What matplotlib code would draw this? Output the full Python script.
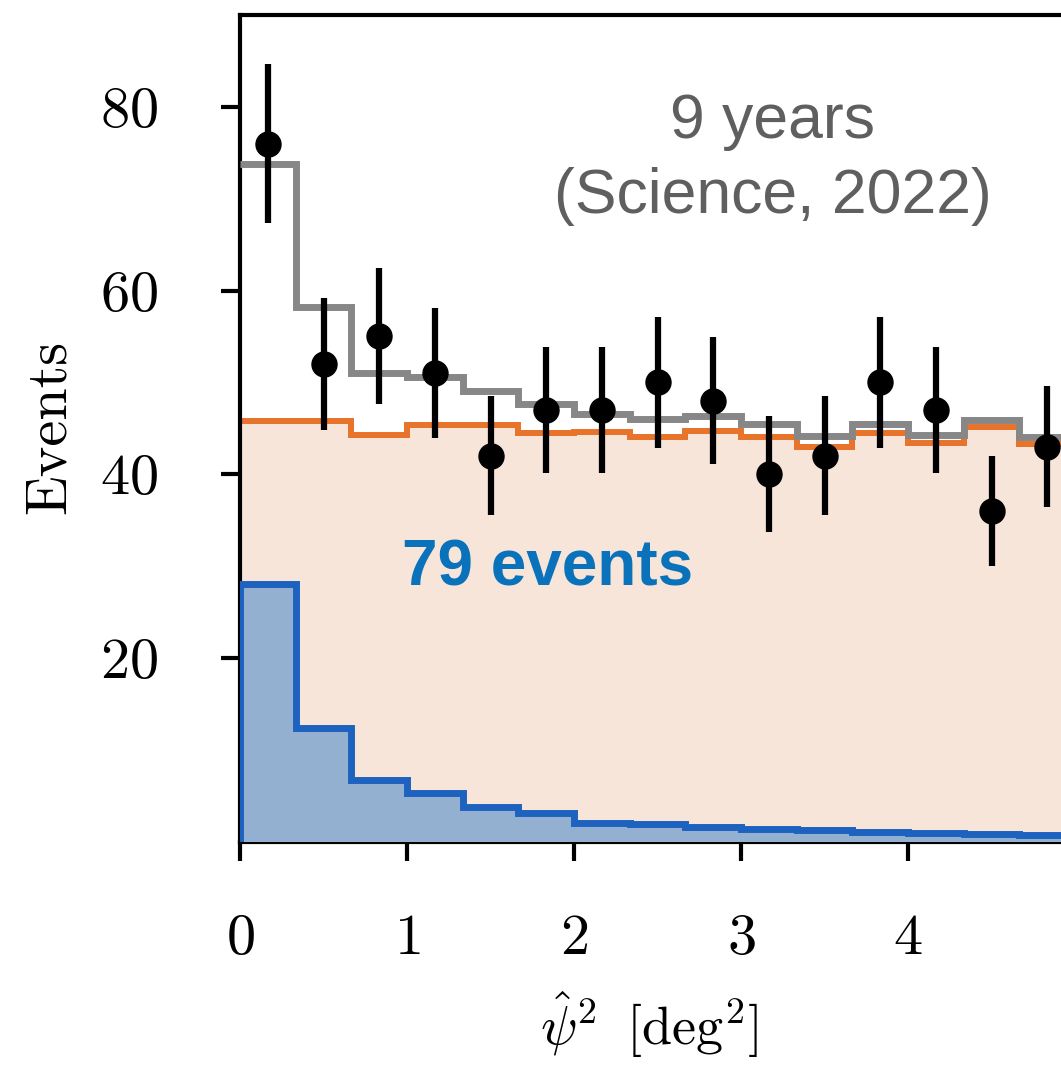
import numpy as np
import matplotlib
matplotlib.use("Agg")
import matplotlib.pyplot as plt

plt.rcParams["font.family"] = "serif"
plt.rcParams["font.serif"] = ["cmr10"]
plt.rcParams["mathtext.fontset"] = "cm"
plt.rcParams["axes.formatter.use_mathtext"] = True

# binned data, psi^2 from 0 to 5 deg^2 in 15 bins
bin_edges = np.linspace(0, 5, 16)
observed = [76, 52, 55, 51, 42, 47, 47, 50, 48, 40, 42, 50, 47, 36, 43]
observed_err = [8.7, 7.2, 7.4, 7.1, 6.5, 6.9, 6.9, 7.1, 6.9, 6.3, 6.5, 7.1, 6.9, 6.0, 6.6]
background = [45.8, 45.8, 44.3, 45.3, 45.3, 44.5, 44.6, 44.1, 44.7, 44.1, 43.0, 44.5, 43.4, 45.1, 43.3]
signal = [28.0, 12.4, 6.7, 5.3, 3.8, 3.1, 2.0, 1.9, 1.6, 1.4, 1.2, 1.0, 0.9, 0.8, 0.7]
total = np.array(background) + np.array(signal)
centers = 0.5 * (bin_edges[:-1] + bin_edges[1:])

fig = plt.figure(figsize=(10.61, 10.68), dpi=100)
ax = fig.add_axes([240 / 1061, 1 - 841.5 / 1068, 835 / 1061, 826.5 / 1068])

ax.stairs(background, bin_edges, fill=True, color="#f8e5da", zorder=1)
ax.stairs(background, bin_edges, baseline=None, color="#e8732a", lw=4.3, zorder=2)
ax.stairs(signal, bin_edges, fill=True, color="#93b0d0", zorder=3)
ax.stairs(signal, bin_edges, baseline=0, color="#1e62bf", lw=5, zorder=4)
ax.stairs(total, bin_edges, baseline=None, color="#878787", lw=5, zorder=5)
ax.errorbar(centers, observed, yerr=observed_err, fmt="o", color="black",
            ms=18, elinewidth=4.5, capsize=0, zorder=6)

ax.set_xlim(0, 5)
ax.set_ylim(0, 90)
ax.set_xticks([0, 1, 2, 3, 4])
ax.set_yticks([20, 40, 60, 80])
ax.tick_params(axis="both", labelsize=42, length=14, width=3, pad=38)
ax.tick_params(axis="y", pad=45)
for sp in ax.spines.values():
    sp.set_linewidth(3)

ax.set_xlabel(r"$\hat{\psi}^2\;\;[\mathrm{deg}^2]$", fontsize=39)
ax.xaxis.set_label_coords(0.49, -0.18)
fig.text(50 / 1061, 1 - 427 / 1068, "Events", rotation=90, ha="center", va="center", fontsize=42)

ax.text(773 / 1061, 1 - 138 / 1068, "9 years", transform=fig.transFigure,
        ha="center", va="baseline", fontsize=45, color="#5f5f5f", family="Liberation Sans")
ax.text(773 / 1061, 1 - 213 / 1068, "(Science, 2022)", transform=fig.transFigure,
        ha="center", va="baseline", fontsize=45, color="#5f5f5f", family="Liberation Sans")
ax.text(548 / 1061, 1 - 585 / 1068, "79 events", transform=fig.transFigure,
        ha="center", va="baseline", fontsize=46, color="#0a72bb", weight="bold",
        family="Liberation Sans", zorder=7)

fig.savefig("out.png", dpi=100)
